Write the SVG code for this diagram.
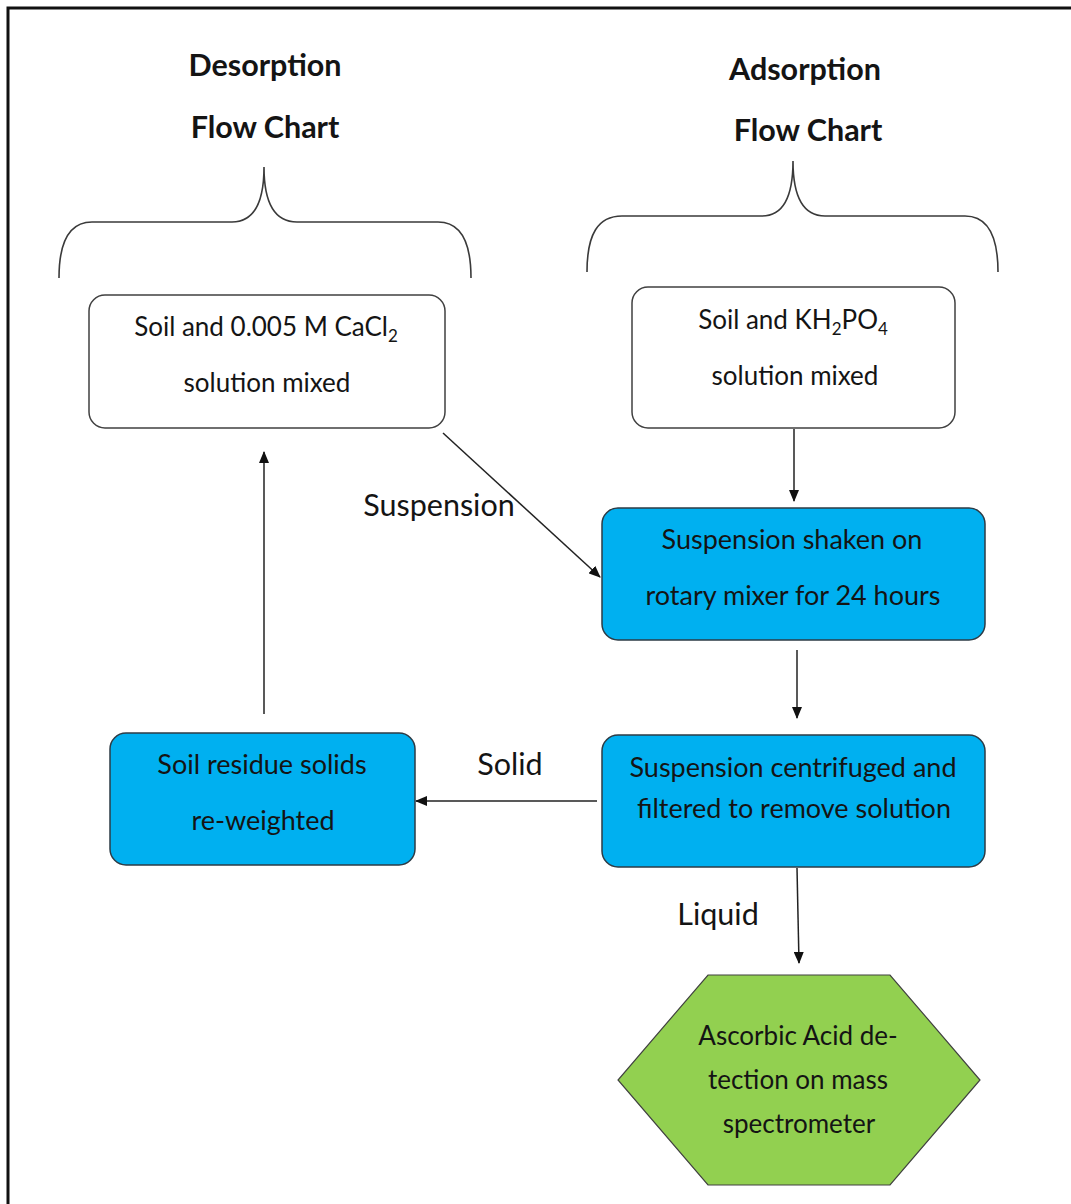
<svg xmlns="http://www.w3.org/2000/svg" width="1071" height="1204" viewBox="0 0 1071 1204">
<style>
.t{font-family:Lato,"Open Sans","Liberation Sans",sans-serif;font-size:26px;fill:#141414;text-anchor:middle}
.tb{font-size:27px}
.lb{font-size:30.5px}
.h{font-family:Lato,"Open Sans","Liberation Sans",sans-serif;font-size:30.5px;font-weight:bold;fill:#141414;text-anchor:middle}
.box{fill:#fff;stroke:#404040;stroke-width:1.5}
.blue{fill:#00B0F0;stroke:#2d3b45;stroke-width:1.5}
.hex{fill:#92D050;stroke:#404040;stroke-width:1.2}
.br{fill:none;stroke:#3a3a3a;stroke-width:1.6}
.c{fill:none;stroke:#222;stroke-width:1.5;marker-end:url(#ah)}
</style>
<defs>
<marker id="ah" markerWidth="12" markerHeight="10" refX="11" refY="5" orient="auto" markerUnits="userSpaceOnUse">
<path d="M0,0 L12,5 L0,10 Z" fill="#111"/>
</marker>
</defs>
<rect x="0" y="0" width="1071" height="1204" fill="#fff"/>
<path d="M8,1204 L8,8 L1071,8" fill="none" stroke="#111" stroke-width="3"/>

<g id="titles">
<text class="h" x="265" y="76">Desorption</text>
<text class="h" x="265" y="138">Flow Chart</text>
<text class="h" x="805" y="80">Adsorption</text>
<text class="h" x="808" y="141">Flow Chart</text>
</g>

<g id="braces">
<path class="br" d="M59,278 C59,240 70,222 92,222 L232,222 C255,222 264,200 264,167 C264,200 273,222 297,222 L438,222 C460,222 471,240 471,278"/>
<path class="br" d="M587,272 C587,234 598,216 622,216 L762,216 C784,216 793,194 793,161 C793,194 802,216 825,216 L965,216 C987,216 998,234 998,272"/>
</g>

<g id="connectors">
<line class="c" x1="443" y1="433" x2="600" y2="577"/>
<line class="c" x1="794" y1="429" x2="794" y2="501"/>
<line class="c" x1="797" y1="650" x2="797" y2="718"/>
<line class="c" x1="597" y1="801" x2="416" y2="801"/>
<line class="c" x1="264" y1="714" x2="264" y2="452"/>
<line class="c" x1="797" y1="868" x2="799" y2="963"/>
<text class="t lb" x="439" y="516">Suspension</text>
<text class="t lb" x="510" y="775">Solid</text>
<text class="t lb" x="718" y="925">Liquid</text>
</g>

<g id="n1">
<rect class="box" x="89" y="295" width="356" height="133" rx="16"/>
<text class="t" x="266" y="336">Soil and 0.005 M CaCl<tspan font-size="17" dy="6">2</tspan></text>
<text class="t" x="267" y="392">solution mixed</text>
</g>

<g id="n2">
<rect class="box" x="632" y="287" width="323" height="141" rx="16"/>
<text class="t" x="793" y="329">Soil and KH<tspan font-size="17" dy="6">2</tspan><tspan dy="-6">PO</tspan><tspan font-size="17" dy="6">4</tspan></text>
<text class="t" x="795" y="385">solution mixed</text>
</g>

<g id="n3">
<rect class="blue" x="602" y="508" width="383" height="132" rx="16"/>
<text class="t tb" x="792" y="549">Suspension shaken on</text>
<text class="t tb" x="793" y="605">rotary mixer for 24 hours</text>
</g>

<g id="n4">
<rect class="blue" x="602" y="735" width="383" height="132" rx="16"/>
<text class="t tb" x="793" y="777">Suspension centrifuged and</text>
<text class="t tb" x="794" y="818">filtered to remove solution</text>
</g>

<g id="n5">
<rect class="blue" x="110" y="733" width="305" height="132" rx="16"/>
<text class="t tb" x="262" y="774">Soil residue solids</text>
<text class="t tb" x="263" y="830">re-weighted</text>
</g>

<g id="n6">
<polygon class="hex" points="708,975 890,975 980,1080 890,1185 708,1185 618,1080"/>
<text class="t" x="798" y="1045">Ascorbic Acid de-</text>
<text class="t" x="798" y="1089">tection on mass</text>
<text class="t" x="799" y="1133">spectrometer</text>
</g>
</svg>
